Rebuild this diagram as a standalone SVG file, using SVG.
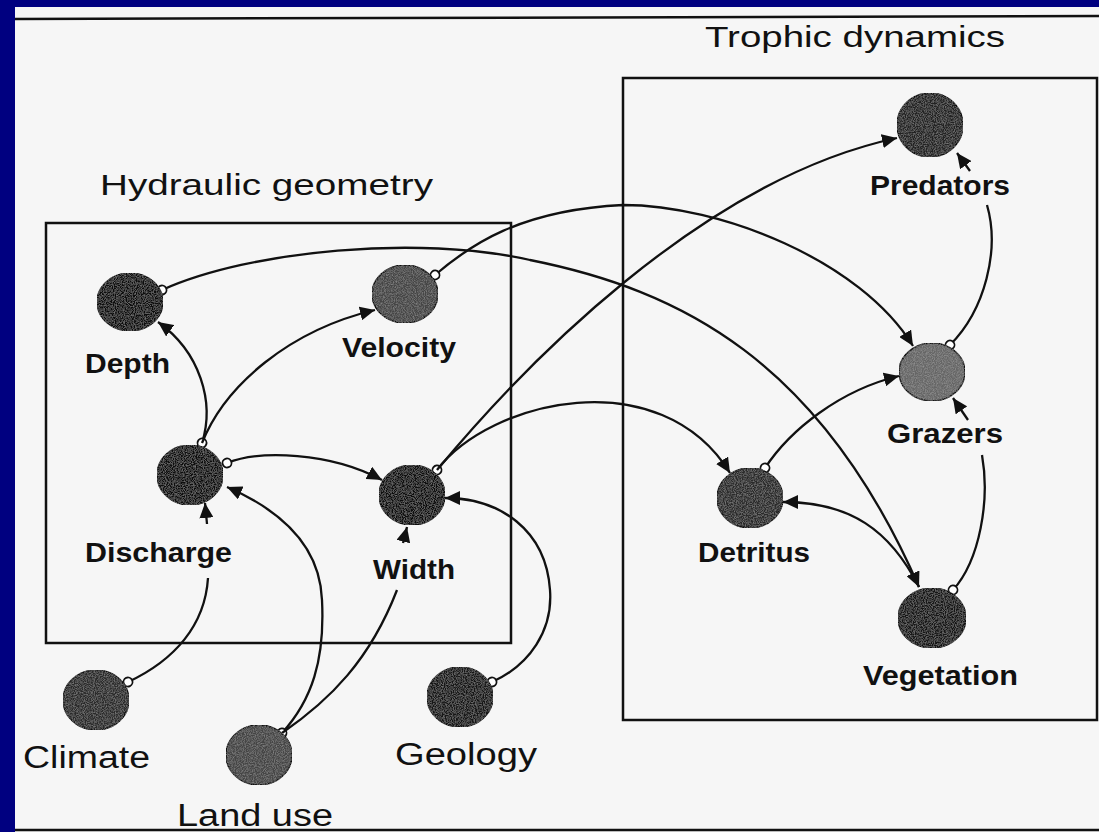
<svg xmlns="http://www.w3.org/2000/svg" width="1099" height="832" viewBox="0 0 1099 832">
<style>
.frame{fill:none;stroke:#111;stroke-width:2.5}
.node{stroke:#111;stroke-width:1.5;filter:url(#grain)}
.lbl{font-family:"Liberation Sans",Arial,sans-serif;font-weight:bold;font-size:28px;fill:#111}
.ext{font-family:"Liberation Sans",Arial,sans-serif;font-size:31px;fill:#111}
.ttl{font-family:"Liberation Sans",Arial,sans-serif;font-size:30px;fill:#111}
.edge{fill:none;stroke:#111;stroke-width:2.3}
.src{marker-start:url(#ring)}
.arr{marker-end:url(#head)}
</style>
<defs>
<marker id="head" markerUnits="userSpaceOnUse" markerWidth="16" markerHeight="14" refX="15" refY="7" orient="auto">
<path d="M0,0 L15,7 L0,14 Z" fill="#111"/>
</marker>
<marker id="ring" markerUnits="userSpaceOnUse" markerWidth="14" markerHeight="14" refX="7" refY="7" orient="auto">
<circle cx="7" cy="7" r="4.5" fill="#fff" stroke="#111" stroke-width="1.8"/>
</marker>
<filter id="grain" x="0" y="0" width="100%" height="100%">
<feTurbulence type="fractalNoise" baseFrequency="0.9" numOctaves="2" seed="4" result="noise"/>
<feColorMatrix in="noise" type="matrix" values="0 0 0 0 1  0 0 0 0 1  0 0 0 0 1  0.35 0 0 0 -0.13" result="spk"/>
<feComposite in="spk" in2="SourceGraphic" operator="in" result="s2"/>
<feMerge><feMergeNode in="SourceGraphic"/><feMergeNode in="s2"/></feMerge>
</filter>
</defs>
<rect x="0" y="0" width="1099" height="832" fill="#000080"/>
<rect x="15" y="7" width="1084" height="825" fill="#f6f6f6"/>
<line x1="15" y1="19" x2="1099" y2="16" stroke="#111" stroke-width="2.5"/>
<line x1="15" y1="830" x2="1099" y2="830" stroke="#111" stroke-width="2.5"/>
<g id="hydraulic-geometry">
<rect class="frame" x="46" y="223" width="465" height="420"/>
<text class="ttl" x="100" y="195" textLength="333" lengthAdjust="spacingAndGlyphs">Hydraulic geometry</text>
</g>
<g id="trophic-dynamics">
<rect class="frame" x="623" y="78" width="474" height="642"/>
<text class="ttl" x="705" y="47" textLength="300" lengthAdjust="spacingAndGlyphs">Trophic dynamics</text>
</g>
<g id="connectors">
<path class="edge src arr" d="M202,443 C215,402 200,352 158,322"/>
<path class="edge arr" d="M202,443 C225,385 290,330 375,310"/>
<path class="edge src arr" d="M227,463 C260,450 330,452 382,480"/>
<path class="edge src" d="M128,682 C175,660 205,625 208,578"/>
<path class="edge arr" d="M207,524 L205,503"/>
<path class="edge src arr" d="M282,733 C312,700 325,660 322,600 C320,545 280,510 227,487"/>
<path class="edge" d="M282,733 C330,700 370,660 397,590"/>
<path class="edge arr" d="M403,543 L407,527"/>
<path class="edge src arr" d="M492,682 C530,665 553,630 550,590 C546,530 500,498 445,498"/>
<path class="edge src arr" d="M437,470 C520,370 700,180 897,138"/>
<path class="edge arr" d="M437,470 C490,400 660,360 730,473"/>
<path class="edge src arr" d="M162,290 C250,250 420,235 530,260 C680,290 820,360 919,587"/>
<path class="edge src arr" d="M435,275 C470,245 520,210 623,205 C720,205 860,260 913,346"/>
<path class="edge src arr" d="M765,468 C790,430 840,390 899,376"/>
<path class="edge arr" d="M919,587 C890,530 850,502 783,502"/>
<path class="edge src" d="M950,345 C985,310 1000,250 987,205"/>
<path class="edge arr" d="M970,171 L957,153"/>
<path class="edge src" d="M953,590 C980,560 990,500 982,455"/>
<path class="edge arr" d="M968,420 L953,398"/>
</g>
<g id="depth"><ellipse class="node" cx="130" cy="302" rx="33" ry="29" fill="#101010"/><text class="lbl" x="85" y="373" textLength="85" lengthAdjust="spacingAndGlyphs">Depth</text></g>
<g id="velocity"><ellipse class="node" cx="405" cy="294" rx="33" ry="29" fill="#444"/><text class="lbl" x="342" y="357" textLength="114" lengthAdjust="spacingAndGlyphs">Velocity</text></g>
<g id="discharge"><ellipse class="node" cx="190" cy="475" rx="33" ry="30" fill="#101010"/><text class="lbl" x="85" y="562" textLength="147" lengthAdjust="spacingAndGlyphs">Discharge</text></g>
<g id="width"><ellipse class="node" cx="412" cy="495" rx="33" ry="30" fill="#0e0e0e"/><text class="lbl" x="373" y="579" textLength="82" lengthAdjust="spacingAndGlyphs">Width</text></g>
<g id="predators"><ellipse class="node" cx="930" cy="125" rx="33" ry="32" fill="#222"/><text class="lbl" x="870" y="195" textLength="140" lengthAdjust="spacingAndGlyphs">Predators</text></g>
<g id="grazers"><ellipse class="node" cx="932" cy="372" rx="33" ry="29" fill="#666"/><text class="lbl" x="887" y="443" textLength="116" lengthAdjust="spacingAndGlyphs">Grazers</text></g>
<g id="detritus"><ellipse class="node" cx="750" cy="498" rx="33" ry="30" fill="#2a2a2a"/><text class="lbl" x="698" y="562" textLength="112" lengthAdjust="spacingAndGlyphs">Detritus</text></g>
<g id="vegetation"><ellipse class="node" cx="932" cy="618" rx="34" ry="30" fill="#121212"/><text class="lbl" x="863" y="685" textLength="155" lengthAdjust="spacingAndGlyphs">Vegetation</text></g>
<g id="climate"><ellipse class="node" cx="96" cy="700" rx="33" ry="30" fill="#2a2a2a"/><text class="ext" x="23" y="768" textLength="127" lengthAdjust="spacingAndGlyphs">Climate</text></g>
<g id="land-use"><ellipse class="node" cx="259" cy="755" rx="33" ry="30" fill="#444"/><text class="ext" x="177" y="826" textLength="156" lengthAdjust="spacingAndGlyphs">Land use</text></g>
<g id="geology"><ellipse class="node" cx="460" cy="697" rx="33" ry="30" fill="#161616"/><text class="ext" x="395" y="765" textLength="142" lengthAdjust="spacingAndGlyphs">Geology</text></g>
</svg>
